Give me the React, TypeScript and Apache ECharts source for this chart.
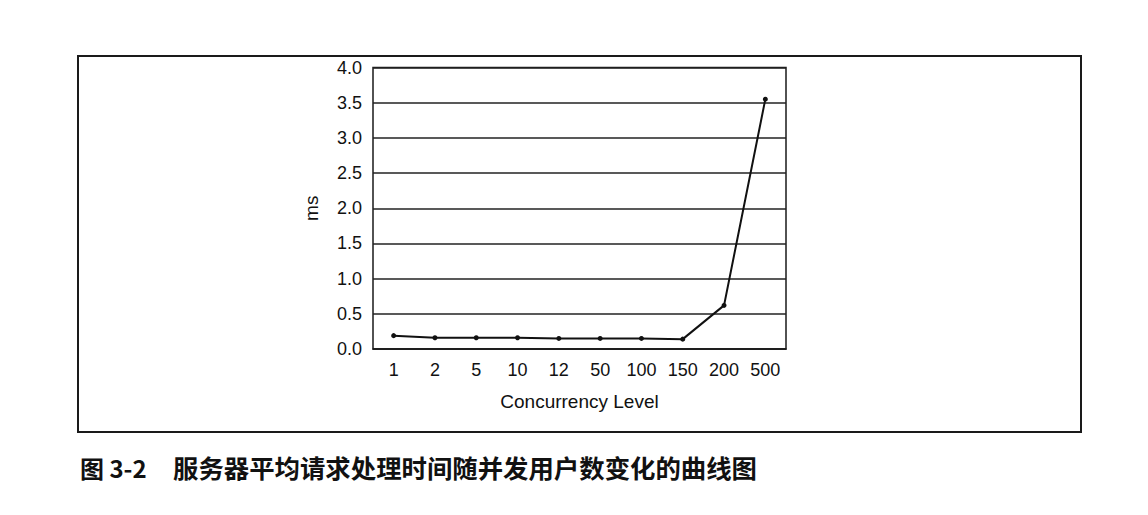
import React, { useEffect, useRef } from "react";
import * as echarts from "echarts";

const categories = ["1", "2", "5", "10", "12", "50", "100", "150", "200", "500"];
const msValues = [0.19, 0.16, 0.16, 0.16, 0.15, 0.15, 0.15, 0.14, 0.62, 3.55];
const yAxisName = "ms";
const xAxisName = "Concurrency Level";
const captionNumber = "图 3-2";
const captionTitle = "服务器平均请求处理时间随并发用户数变化的曲线图";

export default function App() {
  const ref = useRef<HTMLDivElement>(null);
  useEffect(() => {
    if (!ref.current) return;
    const chart = echarts.init(ref.current, null, { renderer: "svg" });
    const font = "'Liberation Sans', Arial, sans-serif";
    const cjk = "'Noto Sans CJK SC', sans-serif";
    chart.setOption({
      animation: false,
      backgroundColor: "#ffffff",
      grid: {
        left: 373,
        right: 362,
        top: 67.5,
        bottom: 166,
        show: true,
        borderColor: "#1a1a1a",
        borderWidth: 1.5,
        containLabel: false,
      },
      xAxis: {
        type: "category",
        data: categories,
        boundaryGap: true,
        name: xAxisName,
        nameLocation: "middle",
        nameGap: 43,
        nameTextStyle: { fontFamily: font, fontSize: 19, color: "#111" },
        axisLine: { show: true, lineStyle: { color: "#1a1a1a", width: 1.5 } },
        axisTick: { show: false },
        axisLabel: { fontFamily: font, fontSize: 18, color: "#111", margin: 12, interval: 0 },
        splitLine: { show: false },
      },
      yAxis: {
        type: "value",
        min: 0,
        max: 4,
        interval: 0.5,
        name: yAxisName,
        nameLocation: "middle",
        nameGap: 52,
        nameRotate: 90,
        nameTextStyle: { fontFamily: font, fontSize: 19, color: "#111" },
        axisLine: { show: false },
        axisTick: { show: false },
        axisLabel: {
          fontFamily: font,
          fontSize: 18,
          color: "#111",
          margin: 11,
          formatter: (v: number) => v.toFixed(1),
        },
        splitLine: { show: true, lineStyle: { color: "#222", width: 1.5 } },
      },
      series: [
        {
          type: "line",
          data: msValues,
          symbol: "circle",
          symbolSize: 5,
          lineStyle: { color: "#111", width: 2 },
          itemStyle: { color: "#111" },
        },
      ],
      graphic: [
        {
          type: "rect",
          shape: { x: 78, y: 56, width: 1003, height: 376 },
          style: { fill: "none", stroke: "#1a1a1a", lineWidth: 2 },
          silent: true,
        },
        {
          type: "text",
          x: 80,
          y: 467,
          style: {
            text: captionNumber,
            fontFamily: cjk,
            fontSize: 24,
            fontWeight: "bold",
            fill: "#111",
            verticalAlign: "middle",
            textAlign: "left",
          },
        },
        {
          type: "text",
          x: 173,
          y: 467,
          style: {
            text: captionTitle,
            fontFamily: cjk,
            fontSize: 25.4,
            fontWeight: "bold",
            fill: "#111",
            verticalAlign: "middle",
            textAlign: "left",
          },
        },
      ],
    });
    return () => chart.dispose();
  }, []);
  return (
    <div
      ref={ref}
      style={{ position: "fixed", left: 0, top: 0, width: 1148, height: 515 }}
    />
  );
}
